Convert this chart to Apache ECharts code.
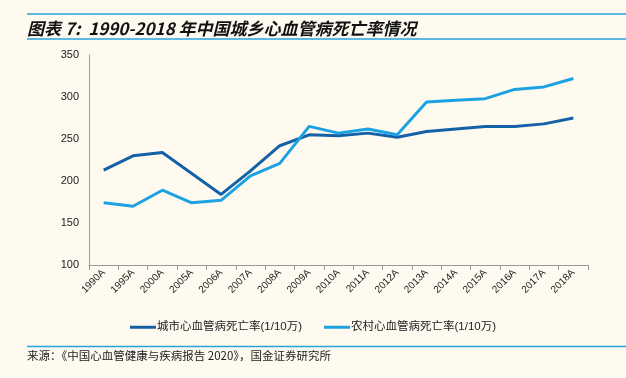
<!DOCTYPE html>
<html><head><meta charset="utf-8">
<script src="https://cdn.jsdelivr.net/npm/echarts@6/dist/echarts.min.js"></script>
<style>html,body{margin:0;padding:0;background:#fefaf0;}#c{width:626px;height:378px;}</style>
</head><body><div id="c"></div>
<script>
const categories = ['1990A','1995A','2000A','2005A','2006A','2007A','2008A','2009A','2010A','2011A','2012A','2013A','2014A','2015A','2016A','2017A','2018A'];
const urbanName = '城市心血管病死亡率(1/10万)';
const ruralName = '农村心血管病死亡率(1/10万)';
const urban = [213,230,234,209,184,212,242,255,254,257,252,259,262,265,265,268,275];
const rural = [174,170,189,174,177,206,221,265,257,262,255,294,296,298,309,312,322];
const yTicks = [100,150,200,250,300,350];
const titleText = '图表 7:  1990-2018 年中国城乡心血管病死亡率情况';
const sourceText = '来源：《中国心血管健康与疾病报告 2020》，国金证券研究所';

const chart = echarts.init(document.getElementById('c'));
chart.setOption({
  backgroundColor: '#fefaf0',
  animation: false,
  title: {
    text: titleText, left: 22, top: 15,
    textStyle: {fontFamily: 'Noto Sans CJK SC', fontSize: 17, fontWeight: 'bold', fontStyle: 'italic', color: '#111'}
  },
  graphic: [
    {type: 'line', shape: {x1: 27, y1: 14, x2: 626, y2: 14}, style: {stroke: '#27a3dd', lineWidth: 1.5}},
    {type: 'line', shape: {x1: 27, y1: 39, x2: 626, y2: 39}, style: {stroke: '#27a3dd', lineWidth: 1.5}},
    {type: 'line', shape: {x1: 27, y1: 346.5, x2: 626, y2: 346.5}, style: {stroke: '#27a3dd', lineWidth: 1.5}},
    {type: 'text', left: 27, top: 350, style: {text: sourceText, fontFamily: 'Noto Sans CJK SC', fontSize: 11.5, fill: '#222'}}
  ],
  legend: {
    bottom: 40, left: 'center', itemGap: 22, itemWidth: 26, itemHeight: 3,
    icon: 'rect',
    textStyle: {fontFamily: 'Liberation Sans, Noto Sans CJK SC', fontSize: 11.5, color: '#222', padding: [0,0,0,-4]},
    data: [urbanName, ruralName]
  },
  grid: {left: 89, right: 38, top: 55, bottom: 113},
  xAxis: {
    type: 'category', data: categories, boundaryGap: true,
    axisLine: {lineStyle: {color: '#999'}},
    axisTick: {show: true, lineStyle: {color: '#999'}},
    axisLabel: {rotate: 45, fontSize: 10, color: '#222', fontFamily: 'Liberation Sans', interval: 0, margin: 6}
  },
  yAxis: {
    type: 'value', min: yTicks[0], max: yTicks[yTicks.length-1], interval: 50,
    axisLine: {show: true, lineStyle: {color: '#999'}},
    axisTick: {show: true, length: 0},
    splitLine: {show: false},
    axisLabel: {fontSize: 11, color: '#222', fontFamily: 'Liberation Sans', margin: 10}
  },
  series: [
    {name: urbanName, type: 'line', data: urban, symbol: 'none', lineStyle: {width: 3, color: '#1461a8'}, itemStyle: {color: '#1461a8'}},
    {name: ruralName, type: 'line', data: rural, symbol: 'none', lineStyle: {width: 3, color: '#1ca2e3'}, itemStyle: {color: '#1ca2e3'}}
  ]
});
</script></body></html>
